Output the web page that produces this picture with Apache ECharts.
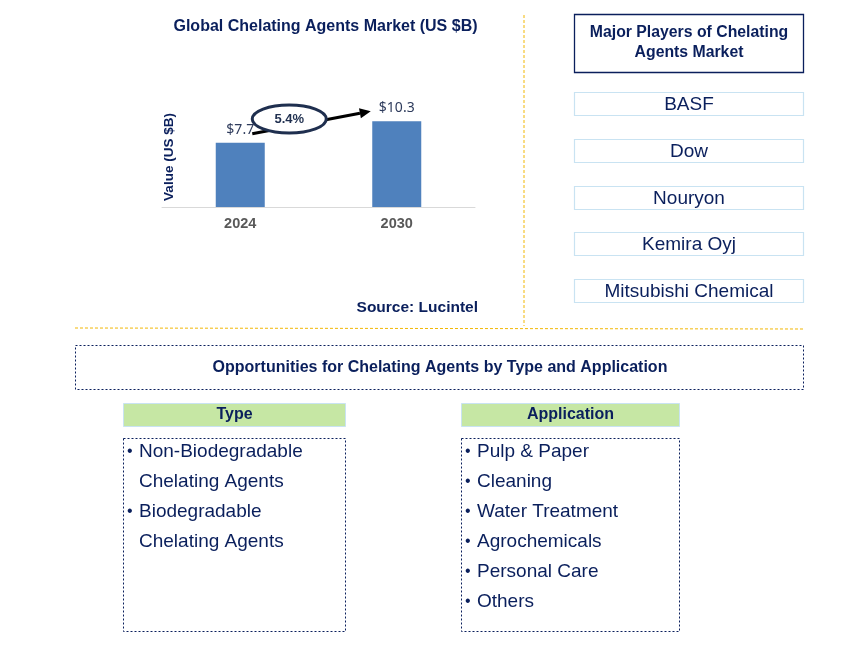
<!DOCTYPE html>
<html>
<head>
<meta charset="utf-8">
<script src="https://cdn.jsdelivr.net/npm/echarts@6/dist/echarts.min.js"></script>
<style>
html,body{margin:0;padding:0;background:#fff;}
#c{width:868px;height:652px;}
</style>
</head>
<body>
<div id="c"></div>
<script>
// ---- data ----
const years = ['2024', '2030'];
const marketValues = [7.7, 10.3];
const valueLabels = ['$7.7', '$10.3'];
const cagrLabel = '5.4%';
const chartTitle = 'Global Chelating Agents Market (US $B)';
const yAxisTitle = 'Value (US $B)';
const sourceText = 'Source: Lucintel';
const playersTitle = ['Major Players of Chelating', 'Agents Market'];
const players = ['BASF', 'Dow', 'Nouryon', 'Kemira Oyj', 'Mitsubishi Chemical'];
const opportunitiesTitle = 'Opportunities for Chelating Agents by Type and Application';
const typeHeader = 'Type';
const typeItems = [['Non-Biodegradable', 'Chelating Agents'], ['Biodegradable', 'Chelating Agents']];
const appHeader = 'Application';
const appItems = ['Pulp & Paper', 'Cleaning', 'Water Treatment', 'Agrochemicals', 'Personal Care', 'Others'];

const NAVY = '#0a1f5c';
const FONT = '"Liberation Sans", Arial, sans-serif';
const GOLD = '#f2b705';

const chart = echarts.init(document.getElementById('c'), null, {renderer: 'canvas'});

function txt(text, x, y, size, weight, color, align) {
  return {type: 'text', z: 10, style: {text: text, x: x, y: y, fill: color || NAVY,
    font: (weight || 'normal') + ' ' + size + 'px ' + FONT, align: align || 'center', verticalAlign: 'middle'}};
}
function rect(x, y, w, h, style) {
  return {type: 'rect', z: 5, shape: {x: x, y: y, width: w, height: h}, style: style};
}

const g = [];
// dividers
g.push({type: 'line', z: 1, shape: {x1: 524, y1: 15, x2: 524, y2: 326}, style: {stroke: GOLD, lineWidth: 1, lineDash: [3, 2]}});
g.push({type: 'line', z: 1, shape: {x1: 75, y1: 328, x2: 803, y2: 329}, style: {stroke: GOLD, lineWidth: 1, lineDash: [3, 2]}});
// title & source
g.push(txt(chartTitle, 325.5, 27, 16, 'bold'));
g.push(txt(sourceText, 478, 308, 15.5, 'bold', NAVY, 'right'));
// players
g.push(rect(574.5, 14.5, 229, 58, {fill: '#fff', stroke: NAVY, lineWidth: 1.3}));
g.push(txt(playersTitle[0], 689, 33, 15.8, 'bold'));
g.push(txt(playersTitle[1], 689, 53, 15.8, 'bold'));
const playerTops = [92.5, 139.5, 186.5, 232.5, 279.5];
players.forEach((p, i) => {
  g.push(rect(574.5, playerTops[i], 229, 23, {fill: '#fff', stroke: '#c9e3f2', lineWidth: 1.2}));
  g.push(txt(p, 689, playerTops[i] + 12, 19, 'normal'));
});
// opportunities
g.push(rect(75.5, 345.5, 728, 44, {fill: '#fff', stroke: NAVY, lineWidth: 1, lineDash: [2, 2]}));
g.push(txt(opportunitiesTitle, 440, 367.5, 16, 'bold'));
// type
g.push(rect(123.5, 403.5, 222, 23, {fill: '#c6e7a4', stroke: '#c9e3f2', lineWidth: 1}));
g.push(txt(typeHeader, 234.5, 415, 16, 'bold'));
g.push(rect(123.5, 438.5, 222, 193, {fill: '#fff', stroke: NAVY, lineWidth: 1, lineDash: [2, 2]}));
let ty = 452;
typeItems.forEach(item => {
  item.forEach((line, j) => {
    if (j === 0) g.push(txt('•', 127, ty, 16, 'normal', NAVY, 'left'));
    g.push(txt(line, 139, ty, 19, 'normal', NAVY, 'left'));
    ty += 30;
  });
});
// application
g.push(rect(461.5, 403.5, 218, 23, {fill: '#c6e7a4', stroke: '#c9e3f2', lineWidth: 1}));
g.push(txt(appHeader, 570.5, 415, 16, 'bold'));
g.push(rect(461.5, 438.5, 218, 193, {fill: '#fff', stroke: NAVY, lineWidth: 1, lineDash: [2, 2]}));
appItems.forEach((a, i) => {
  g.push(txt('•', 465, 452 + i * 30, 16, 'normal', NAVY, 'left'));
  g.push(txt(a, 477, 452 + i * 30, 19, 'normal', NAVY, 'left'));
});

const option = {
  animation: false,
  backgroundColor: '#fff',
  grid: {left: 162, right: 393, top: 107, bottom: 445, containLabel: false},
  xAxis: {
    type: 'category', data: years,
    axisLine: {lineStyle: {color: '#d9d9d9', width: 1}},
    axisTick: {show: false},
    axisLabel: {color: '#595959', fontWeight: 'bold', fontSize: 14.5, fontFamily: FONT, margin: 9}
  },
  yAxis: {
    type: 'value', min: 0, max: 12,
    name: yAxisTitle, nameLocation: 'middle', nameGap: -14, nameRotate: 90,
    nameTextStyle: {color: NAVY, fontWeight: 'bold', fontSize: 13.5, fontFamily: FONT},
    axisLine: {show: false}, axisTick: {show: false}, axisLabel: {show: false}, splitLine: {show: false}
  },
  series: [{
    type: 'bar', data: marketValues, barWidth: 49,
    itemStyle: {color: '#4f81bd'},
    label: {show: true, position: 'top', distance: 6,
      formatter: p => valueLabels[p.dataIndex],
      color: '#2e3b5c', fontSize: 14, fontFamily: '"Noto Sans", "DejaVu Sans", sans-serif'}
  }],
  graphic: g
};
chart.setOption(option);

// CAGR annotation anchored to the bar tops
const p0 = chart.convertToPixel({gridIndex: 0}, [0, marketValues[0]]);
const p1 = chart.convertToPixel({gridIndex: 0}, [1, marketValues[1]]);
const a0 = [p0[0] + 12, p0[1] - 9];
const a1 = [p1[0] - 26, p1[1] - 10];
const ang = Math.atan2(a1[1] - a0[1], a1[0] - a0[0]);
const hl = 11, hw = 5;
const tip = a1;
const base = [tip[0] - hl * Math.cos(ang), tip[1] - hl * Math.sin(ang)];
const nx = -Math.sin(ang), ny = Math.cos(ang);
const ec = [a0[0] + 37, (p0[1] + p1[1]) / 2 - 13];
chart.setOption({graphic: g.concat([
  {type: 'line', z: 20, shape: {x1: a0[0], y1: a0[1], x2: base[0], y2: base[1]}, style: {stroke: '#000', lineWidth: 3}},
  {type: 'polygon', z: 20, shape: {points: [tip, [base[0] + nx * hw, base[1] + ny * hw], [base[0] - nx * hw, base[1] - ny * hw]]}, style: {fill: '#000'}},
  {type: 'ellipse', z: 21, shape: {cx: ec[0], cy: ec[1], rx: 37, ry: 14}, style: {fill: '#fff', stroke: '#1f2f4f', lineWidth: 3}},
  {type: 'text', z: 22, style: {text: cagrLabel, x: ec[0], y: ec[1], fill: '#1f2f4f', font: 'bold 13px ' + FONT, align: 'center', verticalAlign: 'middle'}}
])}, {replaceMerge: ['graphic']});
</script>
</body>
</html>
